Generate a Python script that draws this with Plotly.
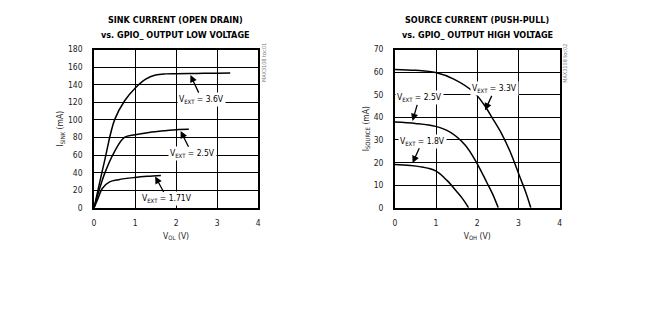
import plotly.graph_objects as go

# ---- data: sink current (open drain) ----
sink_x_36 = [0, 0.25, 0.5, 0.75, 1.0, 1.25, 1.5, 1.75, 2.0, 2.5, 3.0, 3.32]
sink_y_36 = [0, 52, 100, 122, 136, 146, 151, 152.3, 152.5, 152.8, 153.1, 153.3]
sink_x_25 = [0, 0.25, 0.5, 0.74, 1.0, 1.34, 1.7, 2.07, 2.31]
sink_y_25 = [0, 38, 64, 80, 83, 85.6, 87.5, 89, 89.2]
sink_x_171 = [0, 0.1, 0.2, 0.38, 0.6, 1.0, 1.3, 1.63]
sink_y_171 = [0, 11, 22, 29.4, 32, 34.5, 35.8, 36.8]

# ---- data: source current (push-pull) ----
src_x_33 = [0, 0.5, 0.99, 1.43, 1.91, 2.15, 2.39, 2.6, 2.8, 3.04, 3.18, 3.3]
src_y_33 = [61.2, 60.8, 59.8, 56.9, 51.2, 46, 39, 32.5, 24.8, 13.4, 6.8, 0]
src_x_25 = [0, 0.5, 0.99, 1.35, 1.71, 1.99, 2.23, 2.38, 2.51]
src_y_25 = [37.9, 37.3, 36, 33.4, 27.7, 19.8, 11.3, 5.8, 0]
src_x_18 = [0, 0.63, 0.99, 1.27, 1.51, 1.66, 1.79]
src_y_18 = [19.1, 18.1, 16.3, 12, 7, 3.6, 0]

left_ticks_x = [0, 1, 2, 3, 4]
left_ticks_y = list(range(0, 181, 20))
right_ticks_y = list(range(0, 71, 10))

TXT = "DejaVu Sans Condensed, Liberation Sans Narrow, Arial Narrow, sans-serif"
fig = go.Figure()

line = dict(color="black", width=1.5)
for xs, ys in [(sink_x_36, sink_y_36), (sink_x_25, sink_y_25), (sink_x_171, sink_y_171)]:
    fig.add_trace(go.Scatter(x=xs, y=ys, mode="lines", line=line, line_shape="spline",
                             xaxis="x", yaxis="y", showlegend=False))
for xs, ys in [(src_x_33, src_y_33), (src_x_25, src_y_25), (src_x_18, src_y_18)]:
    fig.add_trace(go.Scatter(x=xs, y=ys, mode="lines", line=line, line_shape="spline",
                             xaxis="x2", yaxis="y2", showlegend=False))

tickfont = dict(family=TXT, size=8.5, color="#222")
axis_common = dict(showgrid=True, gridcolor="black", gridwidth=1.3, showline=True,
                   linecolor="black", linewidth=1.5, mirror=True, zeroline=False,
                   ticks="outside", tickcolor="rgba(0,0,0,0)", tickfont=tickfont)
title_font = dict(family=TXT, size=8.5, color="#222")

fig.update_layout(
    width=672, height=312, margin=dict(l=0, r=0, t=0, b=0),
    plot_bgcolor="white", paper_bgcolor="white",
    xaxis=dict(domain=[0.138, 0.384], range=[0, 4], tickvals=left_ticks_x, anchor="y", ticklen=6,
               title=dict(text="V<sub>OL</sub> (V)", font=title_font, standoff=6),
               **axis_common),
    yaxis=dict(domain=[0.3285, 0.8526], range=[0, 180], tickvals=left_ticks_y, anchor="x", ticklen=8,
               title=dict(text="I<sub>SINK</sub> (mA)", font=title_font, standoff=3),
               **axis_common),
    xaxis2=dict(domain=[0.589, 0.836], range=[0, 4], tickvals=left_ticks_x, anchor="y2", ticklen=6,
                title=dict(text="V<sub>OH</sub> (V)", font=title_font, standoff=6),
                **axis_common),
    yaxis2=dict(domain=[0.3285, 0.8526], range=[0, 70], tickvals=right_ticks_y, anchor="x2", ticklen=8,
                title=dict(text="I<sub>SOURCE</sub> (mA)", font=title_font, standoff=3),
                **axis_common),
)

ann_font = dict(family=TXT, size=8.5, color="black")
arrows = [
    ("x", "y", "V<sub>EXT</sub> = 3.6V", 2.63, 123, 2.35, 151),
    ("x", "y", "V<sub>EXT</sub> = 2.5V", 2.39, 61.5, 2.11, 87.2),
    ("x", "y", "V<sub>EXT</sub> = 1.71V", 1.79, 10, 1.49, 35.7),
    ("x2", "y2", "V<sub>EXT</sub> = 3.3V", 2.43, 52.6, 2.19, 43.1),
    ("x2", "y2", "V<sub>EXT</sub> = 2.5V", 0.59, 48.6, 0.43, 38.4),
    ("x2", "y2", "V<sub>EXT</sub> = 1.8V", 0.67, 29.4, 0.43, 19.8),
]
for xr, yr, t, tx, ty, hx, hy in arrows:
    fig.add_annotation(xref=xr, yref=yr, axref=xr, ayref=yr, x=hx, y=hy, ax=tx, ay=ty,
                       text=t, showarrow=True, arrowhead=2, arrowsize=1.1, arrowwidth=1.3,
                       arrowcolor="black", bgcolor="white", font=ann_font, borderpad=1)

# titles (one annotation per line for spacing like the reference)
for cx, l1, l2 in [(175, "SINK CURRENT (OPEN DRAIN)", "vs. GPIO_ OUTPUT LOW VOLTAGE"),
                   (479, "SOURCE CURRENT (PUSH-PULL)", "vs. GPIO_ OUTPUT HIGH VOLTAGE")]:
    for py, t in [(16, l1), (31, l2)]:
        fig.add_annotation(xref="paper", yref="paper", x=cx / 672, y=1 - py / 312,
                           text="<b>" + t + "</b>", showarrow=False,
                           font=dict(family=TXT, size=9, color="black"), align="center",
                           xanchor="center", yanchor="middle")

# tiny figure IDs
for px, t in [(264, "MAX3108 toc01"), (567, "MAX3108 toc02")]:
    fig.add_annotation(xref="paper", yref="paper", x=px / 672, y=1 - 60 / 312, text=t,
                       textangle=-90, showarrow=False, font=dict(family=TXT, size=5.5, color="#777"),
                       xanchor="center", yanchor="middle")

fig.write_html("out.html", config={"displayModeBar": False})
